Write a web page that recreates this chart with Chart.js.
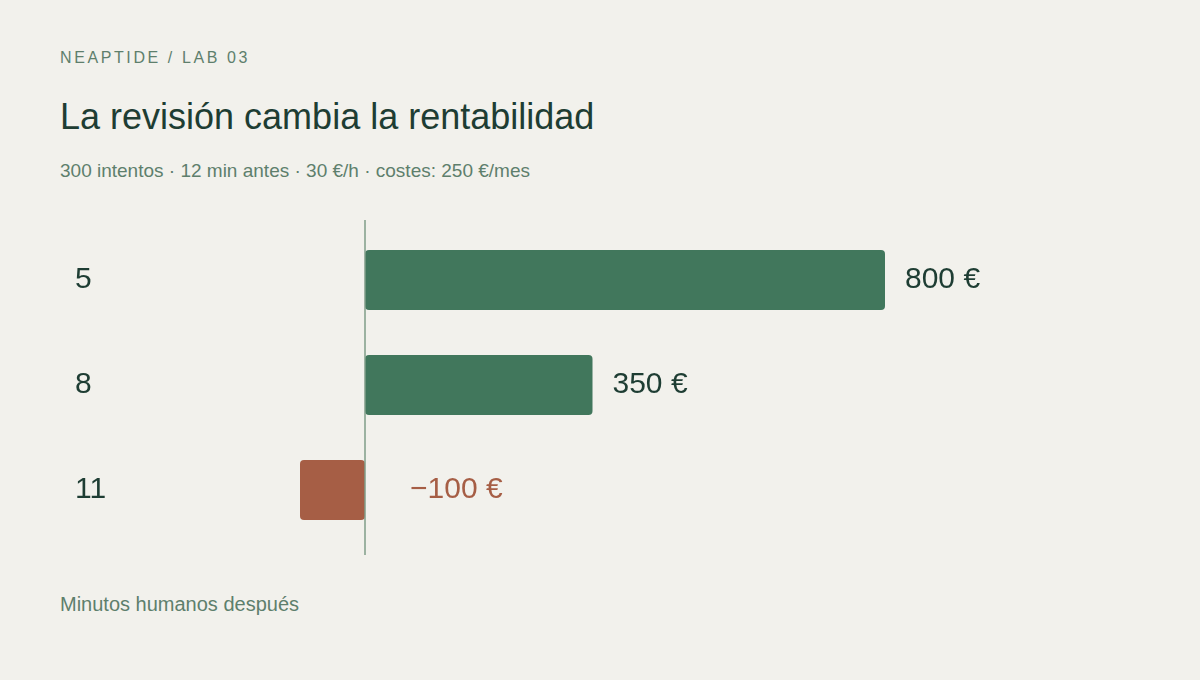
<!DOCTYPE html>
<html>
<head>
<meta charset="utf-8">
<script src="https://cdn.jsdelivr.net/npm/chart.js@4/dist/chart.umd.min.js"></script>
<style>
  body { margin: 0; width: 1200px; height: 680px; background: #f2f1ec; font-family: "Liberation Sans", Arial, sans-serif; position: relative; overflow: hidden; }
  .kicker { position: absolute; left: 60px; top: 49px; font-size: 16px; letter-spacing: 2.6px; color: #5e7f6c; }
  h1 { position: absolute; left: 60px; top: 96px; margin: 0; font-weight: normal; font-size: 36px; color: #1e3d33; }
  .sub { position: absolute; left: 60px; top: 160px; font-size: 19px; color: #5e7f6c; }
  .foot { position: absolute; left: 60px; top: 593px; font-size: 20px; color: #5e7f6c; }
  #wrap { position: absolute; left: 0; top: 220px; width: 1200px; height: 335px; }
</style>
</head>
<body>
<div class="kicker">NEAPTIDE / LAB 03</div>
<h1>La revisión cambia la rentabilidad</h1>
<div class="sub">300 intentos · 12 min antes · 30 €/h · costes: 250 €/mes</div>
<div id="wrap"><canvas id="c"></canvas></div>
<div class="foot">Minutos humanos después</div>
<script>
const categories = ['5', '8', '11'];
const values = [800, 350, -100];
const valueLabels = ['800 €', '350 €', '\u2212100 €'];

const GREEN = '#41775c';
const RED = '#a65e45';

const annotate = {
  id: 'annotate',
  afterDatasetsDraw(chart) {
    const { ctx, chartArea, scales } = chart;
    const x0 = scales.x.getPixelForValue(0);
    ctx.save();
    ctx.strokeStyle = '#7f9d89';
    ctx.lineWidth = 1.5;
    ctx.beginPath();
    ctx.moveTo(x0, 0);
    ctx.lineTo(x0, chart.height);
    ctx.stroke();
    ctx.font = '30px "Liberation Sans", Arial, sans-serif';
    ctx.textBaseline = 'middle';
    const meta = chart.getDatasetMeta(0);
    meta.data.forEach((bar, i) => {
      ctx.fillStyle = '#1e3d33';
      ctx.textAlign = 'left';
      ctx.fillText(categories[i], 75, bar.y);
      if (values[i] >= 0) {
        ctx.fillText(valueLabels[i], bar.x + 20, bar.y);
      } else {
        ctx.fillStyle = RED;
        ctx.fillText(valueLabels[i], x0 + 45, bar.y);
      }
    });
    ctx.restore();
  }
};

new Chart(document.getElementById('c'), {
  type: 'bar',
  data: {
    labels: categories,
    datasets: [{
      data: values,
      backgroundColor: values.map(v => v >= 0 ? GREEN : RED),
      borderRadius: 4,
      borderSkipped: false,
      categoryPercentage: 1,
      barPercentage: 0.571
    }]
  },
  options: {
    indexAxis: 'y',
    responsive: true,
    maintainAspectRatio: false,
    animation: false,
    layout: { padding: { left: 105, right: 185, top: 7.5, bottom: 12.5 } },
    plugins: { legend: { display: false }, tooltip: { enabled: false } },
    scales: {
      x: { min: -400, max: 1000, display: false },
      y: { display: false }
    }
  },
  plugins: [annotate]
});
</script>
</body>
</html>
